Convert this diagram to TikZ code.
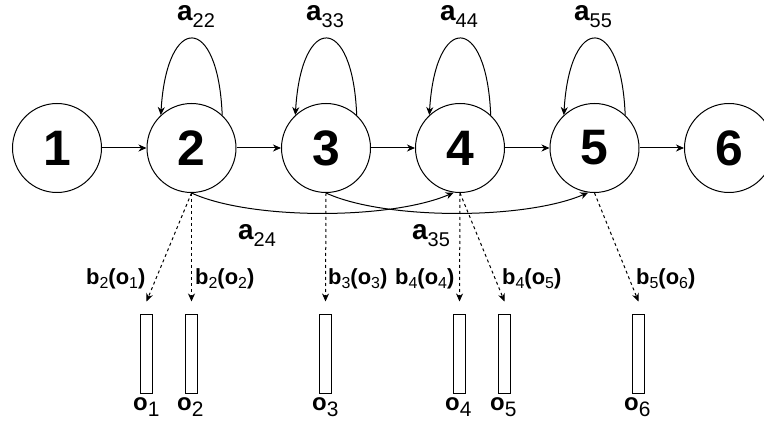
\documentclass[tikz,border=0pt]{standalone}
\usepackage{fontspec}
\setmainfont{Liberation Sans}
\usetikzlibrary{arrows.meta}
\newcommand{\Asub}[2]{{\fontsize{28}{28}\selectfont\bfseries #1}\raisebox{-6.5bp}{\fontsize{20}{20}\selectfont #2}}
\newcommand{\Osub}[1]{{\fontsize{24}{24}\selectfont\bfseries o}\raisebox{-6.5bp}{\fontsize{21}{21}\selectfont #1}}
\newcommand{\Bsub}[2]{{\fontsize{22}{22}\selectfont\bfseries b}\raisebox{-4bp}{\fontsize{16}{16}\selectfont #1}{\fontsize{22}{22}\selectfont\bfseries (o}\raisebox{-4bp}{\fontsize{16}{16}\selectfont #2}{\fontsize{22}{22}\selectfont\bfseries )}}
\tikzset{
  st/.style={circle,draw,line width=1bp,minimum size=89bp,inner sep=0pt,font=\fontsize{50}{50}\selectfont\bfseries},
  obox/.style={draw,line width=1bp,minimum width=12bp,minimum height=78bp,inner sep=0pt,fill=white},
  arr/.style={-{Stealth[length=8bp,width=7bp,inset=2.5bp]},line width=1bp},
  dsh/.style={arr,dash pattern=on 3bp off 3bp},
  lbl/.style={inner sep=0pt,anchor=base west}
}
\begin{document}
\begin{tikzpicture}[x=1bp,y=-1bp]
\useasboundingbox[fill=white] (0,0) rectangle (764,434);
% states
\node[st] (n1) at (57,148) {1};
\node[st] (n2) at (191.5,148) {2};
\node[st] (n3) at (326,148) {3};
\node[st] (n4) at (460,148) {4};
\node[st] (n5) at (594.5,148) {5};
\node[st] (n6) at (729,148) {6};
% forward transitions
\draw[arr] (n1.east) -- (n2.west);
\draw[arr] (n2.east) -- (n3.west);
\draw[arr] (n3.east) -- (n4.west);
\draw[arr] (n4.east) -- (n5.west);
\draw[arr] (n5.east) -- (n6.west);
% self loops
\foreach \n in {n2,n3,n4,n5}{
  \draw[arr] (\n.47) .. controls +(-4,-102) and +(6,-102) .. (\n.133);
}
\node[lbl] (a22) at (177,21) {\Asub{a}{22}};
\node[lbl] (a33) at (306,21) {\Asub{a}{33}};
\node[lbl] (a44) at (440,21) {\Asub{a}{44}};
\node[lbl] (a55) at (574,21) {\Asub{a}{55}};
% skip transitions
\draw[arr] (n2.south) .. controls (250,220) and (390,220) .. (n4.262);
\draw[arr] (n3.south) .. controls (384.5,220) and (524.5,220) .. (n5.262);
\node[lbl] (a24) at (238,240) {\Asub{a}{24}};
\node[lbl] (a35) at (412,240) {\Asub{a}{35}};
% observations
\node[obox] (o1) at (146.5,354) {};
\node[obox] (o2) at (191.5,354) {};
\node[obox] (o3) at (325.5,354) {};
\node[obox] (o4) at (459.5,354) {};
\node[obox] (o5) at (504.5,354) {};
\node[obox] (o6) at (638.5,354) {};
\draw[dsh] (n2.south) -- ([yshift=13bp]o1.north);
\draw[dsh] (n2.south) -- ([yshift=13bp]o2.north);
\draw[dsh] (n3.south) -- ([yshift=13bp]o3.north);
\draw[dsh] (n4.south) -- ([yshift=13bp]o4.north);
\draw[dsh] (n4.south) -- ([yshift=13bp]o5.north);
\draw[dsh] (n5.south) -- ([yshift=13bp]o6.north);
\node[lbl] (b21) at (86,285) {\Bsub{2}{1}};
\node[lbl] (b22) at (195,285) {\Bsub{2}{2}};
\node[lbl] (b33) at (328,285) {\Bsub{3}{3}};
\node[lbl] (b44) at (395,285) {\Bsub{4}{4}};
\node[lbl] (b45) at (502,285) {\Bsub{4}{5}};
\node[lbl] (b56) at (636,285) {\Bsub{5}{6}};
\node[lbl] (l1) at (133,410) {\Osub{1}};
\node[lbl] (l2) at (177,410) {\Osub{2}};
\node[lbl] (l3) at (312,410) {\Osub{3}};
\node[lbl] (l4) at (445,410) {\Osub{4}};
\node[lbl] (l5) at (490,410) {\Osub{5}};
\node[lbl] (l6) at (624,410) {\Osub{6}};
\end{tikzpicture}
\end{document}
